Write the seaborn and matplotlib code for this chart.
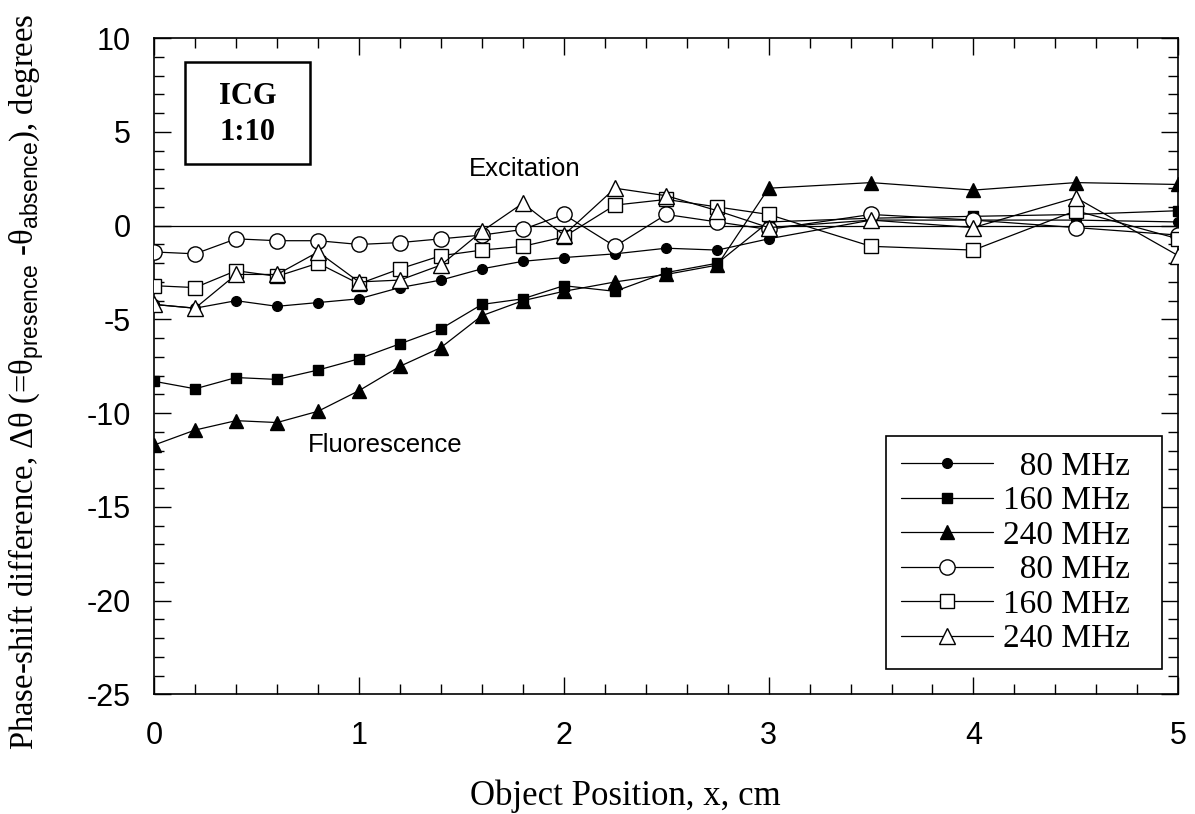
import matplotlib
matplotlib.use("Agg")
import matplotlib.pyplot as plt
from matplotlib.patches import Rectangle
from matplotlib.ticker import MultipleLocator
import seaborn as sns

# Object positions (cm)
x_pos = [0, 0.2, 0.4, 0.6, 0.8, 1.0, 1.2, 1.4, 1.6, 1.8,
         2.0, 2.25, 2.5, 2.75, 3.0, 3.5, 4.0, 4.5, 5.0]

# Fluorescence phase-shift differences (degrees)
fluo_80 = [-4.2, -4.4, -4.0, -4.3, -4.1, -3.9, -3.3, -2.9, -2.3, -1.9,
           -1.7, -1.5, -1.2, -1.3, -0.7, 0.3, 0.3, 0.3, 0.2]
fluo_160 = [-8.3, -8.7, -8.1, -8.2, -7.7, -7.1, -6.3, -5.5, -4.2, -3.9,
            -3.2, -3.5, -2.5, -2.0, 0.2, 0.4, 0.5, 0.6, 0.8]
fluo_240 = [-11.7, -10.9, -10.4, -10.5, -9.9, -8.8, -7.5, -6.5, -4.8, -4.0,
            -3.5, -3.0, -2.6, -2.1, 2.0, 2.3, 1.9, 2.3, 2.2]

# Excitation phase-shift differences (degrees)
exc_80 = [-1.4, -1.5, -0.7, -0.8, -0.8, -1.0, -0.9, -0.7, -0.5, -0.2,
          0.6, -1.1, 0.6, 0.2, -0.2, 0.6, 0.3, -0.1, -0.5]
exc_160 = [-3.2, -3.3, -2.4, -2.7, -2.0, -3.1, -2.3, -1.6, -1.3, -1.1,
           -0.6, 1.1, 1.4, 1.0, 0.6, -1.1, -1.3, 0.8, -0.7]
exc_240 = [-4.2, -4.4, -2.6, -2.6, -1.4, -3.0, -2.9, -2.1, -0.3, 1.2,
           -0.5, 2.0, 1.6, 0.8, -0.1, 0.3, -0.1, 1.5, -1.6]

freq_labels = ["80 MHz", "160 MHz", "240 MHz", "80 MHz", "160 MHz", "240 MHz"]

sns.set_theme(style="ticks")
plt.rcParams["font.family"] = ["Liberation Sans", "DejaVu Sans"]
plt.rcParams["mathtext.fontset"] = "custom"
plt.rcParams["mathtext.rm"] = "Liberation Serif"
plt.rcParams["mathtext.sf"] = "Liberation Sans"
plt.rcParams["axes.unicode_minus"] = False

SERIF = ["Liberation Serif", "DejaVu Serif"]

fig = plt.figure(figsize=(11.95, 8.14), dpi=100)
ax = fig.add_axes([0.129, 0.147, 0.857, 0.806])

ax.axhline(0, color="black", lw=0.9, zorder=1)

styles = [
    (fluo_80, "o", "black", 7.0),
    (fluo_160, "s", "black", 6.5),
    (fluo_240, "^", "black", 10.0),
    (exc_80, "o", "white", 11.0),
    (exc_160, "s", "white", 10.5),
    (exc_240, "^", "white", 11.5),
]

# pad shorter labels so the legend text lines up on the right
width = max(len(s) for s in freq_labels)
for (vals, marker, face, size), lab in zip(styles, freq_labels):
    sns.lineplot(x=x_pos, y=vals, ax=ax, color="black", lw=0.9,
                 marker=marker, markersize=size, markerfacecolor=face,
                 markeredgecolor="black", markeredgewidth=1.0,
                 label="  " * (width - len(lab)) + lab + "  ", zorder=3)

ax.set_xlim(0, 5)
ax.set_ylim(-25, 10)
ax.xaxis.set_major_locator(MultipleLocator(1))
ax.xaxis.set_minor_locator(MultipleLocator(0.2))
ax.yaxis.set_major_locator(MultipleLocator(5))
ax.yaxis.set_minor_locator(MultipleLocator(1))
ax.tick_params(which="both", direction="in", top=True, right=True,
               color="black", width=1.0, labelsize=22, labelcolor="black")
ax.tick_params(which="major", length=12)
ax.tick_params(axis="x", which="major", pad=19)
ax.tick_params(axis="y", which="major", pad=17)
ax.tick_params(which="minor", length=7)
for sp in ax.spines.values():
    sp.set_color("black")
    sp.set_linewidth(1.2)

ax.set_xlabel("Object Position, x, cm", family=SERIF, fontsize=25, color="black")
ax.xaxis.set_label_coords(0.46, -0.13)
ax.set_ylabel(r"Phase-shift difference, Δθ (=θ$_{\mathsf{presence}}$ -θ$_{\mathsf{absence}}$), degrees",
              family=SERIF, fontsize=23.5, color="black")
ax.yaxis.set_label_coords(-0.106, 0.476)

# annotation box in the upper-left corner
ax.add_patch(Rectangle((0.151, 3.31), 0.611, 5.45, fill=False,
                       edgecolor="black", lw=1.8, zorder=4))
ax.text(0.457, 6.9, "ICG", ha="center", va="center", family=SERIF,
        fontweight="bold", fontsize=22, color="black")
ax.text(0.457, 4.96, "1:10", ha="center", va="center", family=SERIF,
        fontweight="bold", fontsize=22, color="black")

ax.text(1.81, 3.0, "Excitation", ha="center", va="center", fontsize=18.5, color="black")
ax.text(1.13, -11.7, "Fluorescence", ha="center", va="center", fontsize=18.5, color="black")

leg = ax.legend(loc="lower right", bbox_to_anchor=(0.984, 0.038), borderaxespad=0,
                frameon=True, fancybox=False, edgecolor="black", framealpha=1,
                prop={"family": SERIF, "size": 24}, handlelength=2.75,
                labelspacing=0.12, handletextpad=0.3, borderpad=0.45)
leg.get_frame().set_linewidth(1.2)
for t in leg.get_texts():
    t.set_color("black")

fig.savefig("out.png", dpi=100, facecolor="white")
